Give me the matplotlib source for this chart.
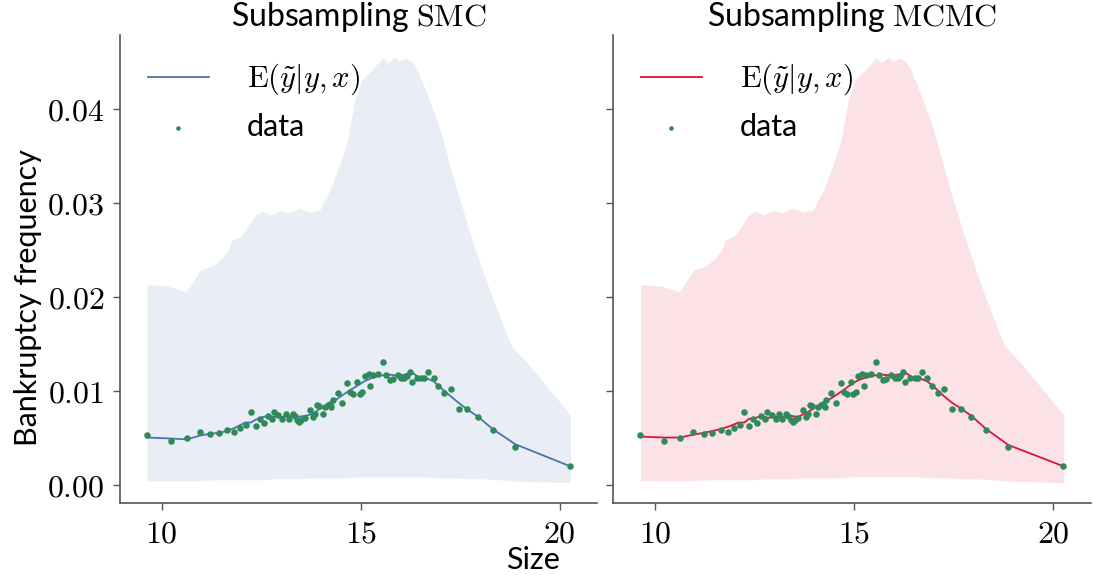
import numpy as np
import matplotlib
matplotlib.use("Agg")
import matplotlib.pyplot as plt
from matplotlib.ticker import FuncFormatter

plt.rcParams["mathtext.fontset"] = "cm"
plt.rcParams["font.family"] = ["Lato", "DejaVu Sans"]

# observed bankruptcy frequency per size bin
size_obs = [9.62, 10.23, 10.63, 10.95, 11.22, 11.44, 11.65, 11.82, 11.97, 12.12,
            12.24, 12.36, 12.47, 12.57, 12.66, 12.76, 12.82, 12.93, 13.03, 13.12,
            13.20, 13.30, 13.34, 13.41, 13.46, 13.51, 13.59, 13.72, 13.79, 13.84,
            13.90, 13.95, 14.05, 14.10, 14.18, 14.22, 14.26, 14.30, 14.42, 14.54,
            14.66, 14.74, 14.81, 14.91, 14.97, 15.04, 15.10, 15.21, 15.24, 15.31,
            15.43, 15.56, 15.63, 15.73, 15.81, 15.93, 16.02, 16.10, 16.16, 16.23,
            16.29, 16.41, 16.52, 16.60, 16.70, 16.83, 16.95, 17.10, 17.26, 17.46,
            17.68, 17.95, 18.32, 18.88, 20.26]
freq_obs = [0.00528, 0.00461, 0.00500, 0.00560, 0.00542, 0.00546, 0.00578, 0.00560, 0.00600, 0.00634,
            0.00776, 0.00623, 0.00700, 0.00656, 0.00730, 0.00700, 0.00770, 0.00737, 0.00700, 0.00755,
            0.00700, 0.00748, 0.00734, 0.00690, 0.00663, 0.00684, 0.00709, 0.00790, 0.00720, 0.00755,
            0.00850, 0.00836, 0.00748, 0.00826, 0.00844, 0.00860, 0.00826, 0.00900, 0.00975, 0.00870,
            0.01080, 0.00985, 0.00968, 0.01090, 0.00968, 0.00990, 0.01150, 0.01180, 0.01050, 0.01163,
            0.01180, 0.01300, 0.01163, 0.01110, 0.01120, 0.01170, 0.01130, 0.01138, 0.01150, 0.01200,
            0.01090, 0.01138, 0.01130, 0.01130, 0.01200, 0.01134, 0.01045, 0.00975, 0.01020, 0.00800,
            0.00800, 0.00720, 0.00585, 0.00400, 0.00195]

# posterior predictive mean
size_grid = [9.62, 10.23, 10.63, 10.95, 11.22, 11.44, 11.65, 11.87, 12.10, 12.24,
             12.36, 12.47, 12.66, 12.82, 13.03, 13.20, 13.41, 13.59, 13.79, 13.95,
             14.10, 14.28, 14.47, 14.68, 14.91, 15.10, 15.31, 15.50, 15.70, 15.93,
             16.10, 16.29, 16.47, 16.65, 16.83, 16.98, 17.26, 17.46, 17.68, 17.95,
             18.32, 18.88, 20.26]
mean_smc = [0.0050, 0.0049, 0.0048, 0.0052, 0.0054, 0.0055, 0.0057, 0.0061, 0.0066, 0.0066,
            0.0069, 0.0071, 0.0073, 0.0072, 0.0072, 0.0073, 0.0072, 0.0073, 0.0075, 0.0080,
            0.0083, 0.0087, 0.0093, 0.0099, 0.0105, 0.0110, 0.0114, 0.0116, 0.0117, 0.0116,
            0.0117, 0.0119, 0.0114, 0.0113, 0.0110, 0.0104, 0.0094, 0.0087, 0.0080, 0.0072,
            0.0059, 0.0043, 0.00195]
mean_mcmc = [0.0051, 0.0050, 0.0050, 0.0053, 0.0055, 0.0057, 0.0059, 0.0062, 0.0066, 0.0066,
             0.0070, 0.0070, 0.0073, 0.0071, 0.0072, 0.0072, 0.0073, 0.0072, 0.0076, 0.0080,
             0.0084, 0.0088, 0.0093, 0.0099, 0.0106, 0.0111, 0.0114, 0.0116, 0.0117, 0.0116,
             0.0117, 0.0119, 0.0114, 0.0113, 0.0110, 0.0105, 0.0094, 0.0087, 0.0081, 0.0073,
             0.0059, 0.0042, 0.00195]

# predictive interval
band_x = [9.63, 10.16, 10.61, 10.96, 11.29, 11.54, 11.66, 11.76, 12.01, 12.34,
          12.52, 12.75, 12.97, 13.20, 13.47, 13.72, 13.97, 14.22, 14.47, 14.67,
          14.85, 15.02, 15.15, 15.27, 15.40, 15.55, 15.70, 15.85, 15.98, 16.12,
          16.28, 16.43, 16.68, 16.98, 17.36, 17.73, 18.11, 18.48, 18.79, 19.24,
          20.27]
band_hi = [0.0213, 0.0211, 0.0205, 0.0228, 0.0233, 0.0242, 0.0249, 0.0260, 0.0265, 0.0286,
           0.0291, 0.0287, 0.0292, 0.0289, 0.0294, 0.0290, 0.0292, 0.0313, 0.0340, 0.0366,
           0.0409, 0.0430, 0.0436, 0.0441, 0.0447, 0.0454, 0.0449, 0.0455, 0.0451, 0.0454,
           0.0451, 0.0441, 0.0415, 0.0380, 0.0322, 0.0270, 0.0222, 0.0180, 0.0147, 0.0127,
           0.0074]
band_lo = [0.0004, 0.0004, 0.0004, 0.0004, 0.0005, 0.0005, 0.0005, 0.0005, 0.0005, 0.0005,
           0.0005, 0.0006, 0.0006, 0.0006, 0.0006, 0.0007, 0.0007, 0.0007, 0.0007, 0.0007,
           0.0008, 0.0008, 0.0008, 0.0008, 0.0008, 0.0008, 0.0008, 0.0008, 0.0008, 0.0008,
           0.0008, 0.0008, 0.0008, 0.0007, 0.0007, 0.0006, 0.0006, 0.0005, 0.0004, 0.0003,
           0.0002]

panels = [("SMC", mean_smc, "#4c72b0"), ("MCMC", mean_mcmc, "crimson")]

fig, axes = plt.subplots(1, 2, figsize=(10.93, 5.75), dpi=100, sharey=True)
fig.subplots_adjust(left=0.1098, right=0.998, bottom=0.1247, top=0.940, wspace=0.0335)

for ax, (name, mean, col) in zip(axes, panels):
    ax.fill_between(band_x, band_lo, band_hi, color=col, alpha=0.12, lw=0, zorder=1)
    ax.plot(size_grid, mean, color=col, lw=1.3, label=r"$\mathrm{E}(\tilde{y}|y,x)$", zorder=2)
    ax.scatter(size_obs, freq_obs, s=22, color="seagreen", lw=0, label="data", zorder=3)
    ax.set_title(r"Subsampling $\mathrm{%s}$" % name, fontsize=23)
    ax.set_xlim(8.95, 20.95)
    ax.set_ylim(-0.0020, 0.0479)
    ax.set_xticks([10, 15, 20])
    ax.set_yticks([0.0, 0.01, 0.02, 0.03, 0.04])
    ax.xaxis.set_major_formatter(FuncFormatter(lambda v, p: r"$%d$" % v))
    ax.yaxis.set_major_formatter(FuncFormatter(lambda v, p: r"$%.2f$" % v))
    ax.tick_params(labelsize=23, length=5, width=1, color="#555555", pad=6)
    for s in ("top", "right"):
        ax.spines[s].set_visible(False)
    for s in ("left", "bottom"):
        ax.spines[s].set_color("#555555")
        ax.spines[s].set_linewidth(1.2)
    ax.legend(loc="upper left", frameon=False, fontsize=22, markerscale=0.7,
              handletextpad=1.25)

fig.text(0.488, 0.026, "Size", fontsize=22, ha="center", va="center")
fig.text(0.026, 0.482, "Bankruptcy frequency", fontsize=22, rotation=90, ha="center", va="center")

fig.savefig("out.png")
